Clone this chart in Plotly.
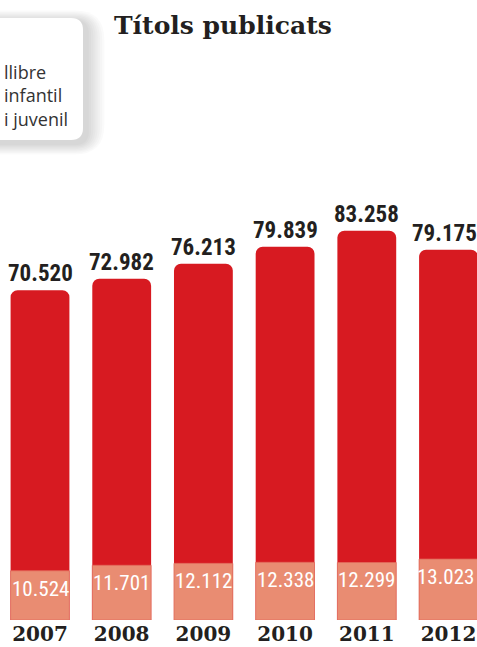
import plotly.graph_objects as go

# ---- data ----
years = ["2007", "2008", "2009", "2010", "2011", "2012"]
total_titles = [70520, 72982, 76213, 79839, 83258, 79175]
youth_titles = [10524, 11701, 12112, 12338, 12299, 13023]
title_text = "Títols publicats"
legend_lines = ["llibre", "infantil", "i juvenil"]

RED = "#d71a21"
SALMON = "#e98c72"
INK = "#231f20"
COND = "Roboto Condensed"


def fmt(v):
    return f"{v:,}".replace(",", ".")


W, H = 477, 647
T, B = 100, 27
plot_h = H - T - B
px_per_unit = 4.676 / 1000.0
ymax = plot_h / px_per_unit
step = 81.7
x0_center = 40.0
xr = [-x0_center / step, (W - x0_center) / step]


def X(px):
    return px / W


def Y(py):
    return (H - B - py) / plot_h


def rrect(x0, y0, x1, y1, r):
    pts = [
        ("M", [(x0 + r, y0)]),
        ("L", [(x1 - r, y0)]),
        ("Q", [(x1, y0), (x1, y0 + r)]),
        ("L", [(x1, y1 - r)]),
        ("Q", [(x1, y1), (x1 - r, y1)]),
        ("L", [(x0 + r, y1)]),
        ("Q", [(x0, y1), (x0, y1 - r)]),
        ("L", [(x0, y0 + r)]),
        ("Q", [(x0, y0), (x0 + r, y0)]),
    ]
    s = ""
    for cmd, ps in pts:
        s += cmd + " " + " ".join(f"{X(a):.5f},{Y(b):.5f}" for a, b in ps) + " "
    return s + "Z"


fig = go.Figure()
fig.add_trace(go.Bar(
    x=years, y=total_titles, width=0.72,
    marker=dict(color=RED, cornerradius=7, line=dict(width=0)),
    cliponaxis=False, hoverinfo="skip",
))
fig.add_trace(go.Bar(
    x=years, y=youth_titles, width=0.72,
    marker=dict(color=SALMON, cornerradius=7, line=dict(width=0.8, color="#e26a5c")),
    cliponaxis=False, hoverinfo="skip",
))

shapes = []
# legend box shadow
for i in range(8):
    e = 2 + i * 2.2
    shapes.append(dict(type="path", xref="paper", yref="paper",
                       path=rrect(-30, 18 + 3 - e * 0.6, 83 + 4 + e, 140 + 4 + e * 0.6, 12 + e),
                       fillcolor="rgba(0,0,0,0.02)", line=dict(width=0), layer="above"))
shapes.append(dict(type="path", xref="paper", yref="paper",
                   path=rrect(-30, 18, 83, 140, 12),
                   fillcolor="white", line=dict(width=0), layer="above"))

annotations = [
    dict(text=title_text, x=X(223), y=Y(25), xref="paper", yref="paper",
         xanchor="center", yanchor="middle", showarrow=False,
         font=dict(family="DejaVu Serif", size=25, color=INK, weight="bold")),
    dict(text="<br>".join(legend_lines), x=X(2), y=Y(95), xref="paper", yref="paper",
         xanchor="left", yanchor="middle", align="left", showarrow=False,
         font=dict(family="Open Sans", size=18, color="#333333")),
]
n = len(years)
for i, v in enumerate(total_titles):
    annotations.append(dict(text=fmt(v), x=i, y=v, xref="x", yref="y",
                            xanchor="center", yanchor="bottom", yshift=1,
                            xshift=-4 if i == n - 1 else 0, showarrow=False,
                            font=dict(family=COND, size=23, color=INK, weight="bold")))
for i, v in enumerate(youth_titles):
    annotations.append(dict(text=fmt(v), x=i, y=v, xref="x", yref="y",
                            xanchor="center", yanchor="top", yshift=-4,
                            xshift=-3 if i == n - 1 else 0, showarrow=False,
                            font=dict(family=COND, size=21, color="white")))

fig.update_layout(
    width=W, height=H,
    margin=dict(l=0, r=0, t=T, b=B, pad=0),
    paper_bgcolor="white", plot_bgcolor="white",
    barmode="overlay", showlegend=False,
    shapes=shapes, annotations=annotations,
    xaxis=dict(type="category", range=xr, showgrid=False, zeroline=False, showline=False, ticks="",
               tickfont=dict(family="DejaVu Serif", size=20, color=INK, weight="bold"),
               fixedrange=True),
    yaxis=dict(range=[0, ymax], visible=False, showgrid=False, zeroline=False, fixedrange=True),
)

fig.write_html("out.html", config={"displayModeBar": False},
               post_script="document.body.style.margin='0';document.body.style.overflow='hidden';")
